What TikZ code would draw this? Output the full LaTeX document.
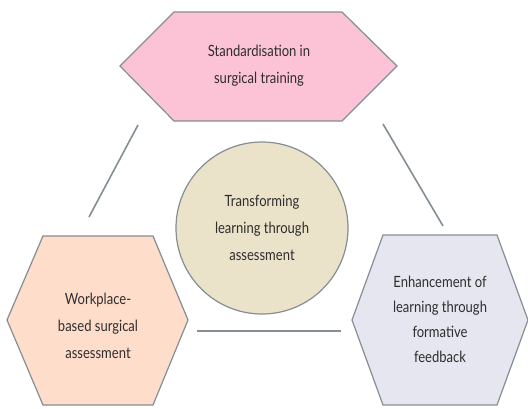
\documentclass[tikz,border=0pt]{standalone}
\usepackage{fontspec}
\setmainfont{Lato}[FakeStretch=0.84]
\definecolor{edge}{HTML}{848E93}
\definecolor{ink}{HTML}{2E2E2E}
\definecolor{pinkfill}{HTML}{FCC2D6}
\definecolor{peachfill}{HTML}{FFDDCB}
\definecolor{lavfill}{HTML}{E6E6F0}
\definecolor{sandfill}{HTML}{EAE2C9}
\begin{document}
\begin{tikzpicture}[x=1pt,y=-1pt,
  shapeline/.style={draw=edge,line width=1.2pt},
  label/.style={text=ink,align=center,font=\fontsize{15.5}{27}\selectfont},
  link/.style={draw=edge,line width=1.6pt}]
\useasboundingbox (0,0) rectangle (528,408);
% hexagons
\path[shapeline,fill=pinkfill] (120,66) -- (174,12) -- (342,12) -- (397,66) -- (342,121) -- (174,121) -- cycle;
\path[shapeline,fill=peachfill] (7,320) -- (43,236) -- (153,236) -- (188,320) -- (153,405) -- (43,405) -- cycle;
\path[shapeline,fill=lavfill] (352,320) -- (383,235) -- (497,235) -- (528,320) -- (497,405) -- (383,405) -- cycle;
% central circle
\node[circle,shapeline,fill=sandfill,minimum size=172pt,inner sep=0pt] (core) at (262,228) {};
% texts
\node[label] (std) at (259,66) {Standardisation in\\surgical training};
\node[label] (wba) at (98,326) {Workplace-\\based surgical\\assessment};
\node[label,font=\fontsize{15.5}{25}\selectfont] (fbk) at (440,319) {Enhancement of\\learning through\\formative\\feedback};
\node[label] (tla) at (262,228) {Transforming\\learning through\\assessment};
% connectors
\coordinate (l1) at (138,125);
\coordinate (l2) at (89,217);
\coordinate (r1) at (383,124);
\coordinate (r2) at (443,226);
\coordinate (b1) at (197,331);
\coordinate (b2) at (341,331);
\draw[link] (l1) -- (l2);
\draw[link] (r1) -- (r2);
\draw[link] (b1) -- (b2);
\end{tikzpicture}
\end{document}
